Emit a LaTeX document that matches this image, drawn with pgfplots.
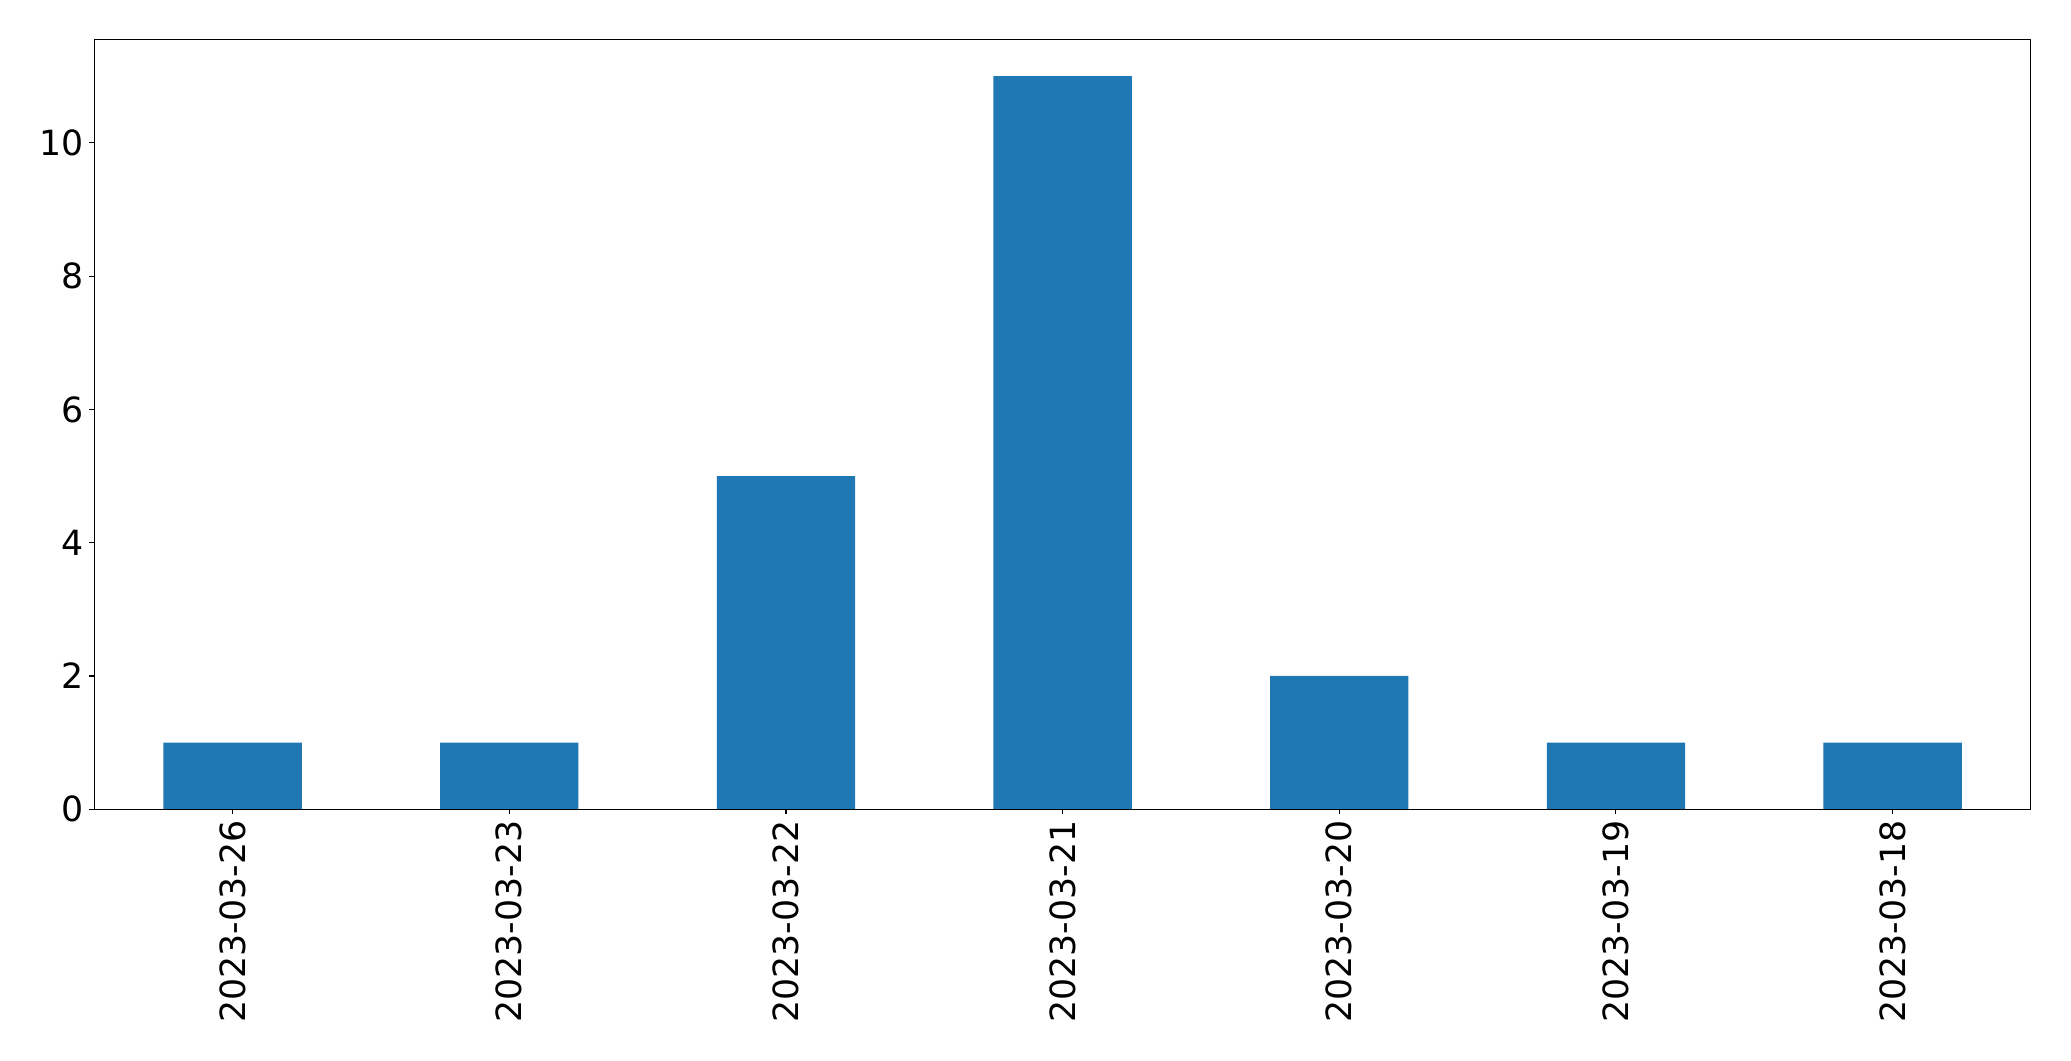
\documentclass[border=0pt]{standalone}
\usepackage{fontspec}
\setmainfont{DejaVu Sans}
\usepackage{pgfplots}
\pgfplotsset{compat=1.18}
\definecolor{mplblue}{HTML}{1F77B4}
\begin{document}
\begin{tikzpicture}
\useasboundingbox (-67.9pt,-181.2pt) rectangle (1423.3pt, 582.7pt);
\begin{axis}[
  at={(0,0)}, anchor=south west,
  scale only axis, width=1394.5pt, height=554.2pt,
  xmin=-0.5, xmax=6.5, ymin=0, ymax=11.55,
  xtick={0,...,6},
  xticklabels={2023-03-26,2023-03-23,2023-03-22,2023-03-21,2023-03-20,2023-03-19,2023-03-18},
  ytick={0,2,4,6,8,10},
  /pgf/number format/assume math mode=true,
  tick align=outside, tick pos=left,
  major tick length=3.5pt,
  every tick/.style={line width=0.8pt, black},
  axis line style={line width=0.8pt},
  axis on top,
  ticklabel style={font=\fontsize{25}{30}\selectfont, inner sep=0pt},
  x tick label style={rotate=90, anchor=east},
  xticklabel shift=4.5pt,
  yticklabel shift=4pt,
]
\addplot[ybar, bar width=0.5, fill=mplblue, draw=none] coordinates {(0,1) (1,1) (2,5) (3,11) (4,2) (5,1) (6,1)};
\end{axis}
\end{tikzpicture}
\end{document}
